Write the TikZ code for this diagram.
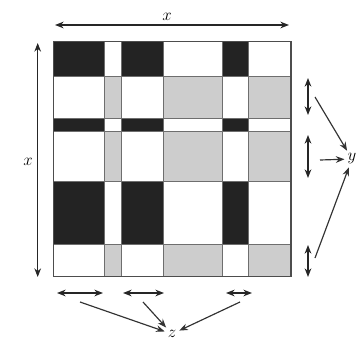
\documentclass[tikz,border=0pt]{standalone}
\usepackage{tikz}
\usetikzlibrary{arrows.meta}
\definecolor{cellgray}{RGB}{205,205,205}
\definecolor{celldark}{RGB}{35,35,35}
\definecolor{rulegray}{RGB}{110,110,110}

\begin{document}
\begin{tikzpicture}[
  x=0.3mm, y=-0.3mm,
  darkcell/.style={fill=celldark},
  lightcell/.style={fill=cellgray},
  gridline/.style={draw=rulegray, line width=0.5pt},
  frame/.style={draw=rulegray!70!black, line width=1.2pt},
  dimarrow/.style={{Stealth[length=2.6mm,width=2mm]}-{Stealth[length=2.6mm,width=2mm]}, line width=1pt, draw=black!85},
  pointer/.style={-{Stealth[length=2.6mm,width=2mm]}, line width=1pt, draw=black!80, shorten >=1pt},
  dimlabel/.style={font=\Large, inner sep=1.5pt}
]
\useasboundingbox (0,0) rectangle (359,358);

% corners of the square
\coordinate (nw) at (53.3,41.7);
\coordinate (se) at (291,276.7);

% dark blocks and grey blocks
\foreach \ya/\yb in {41.7/76, 118.7/131, 181/244}
  \foreach \xa/\xb in {53.3/104.3, 121.7/163.3, 222.7/248.3}
    \fill[darkcell] (\xa,\ya) rectangle (\xb,\yb);
\foreach \ya/\yb in {76/118.7, 131/181, 244/276.7}
  \foreach \xa/\xb in {104.3/121.7, 163.3/222.7, 248.3/291}
    \fill[lightcell] (\xa,\ya) rectangle (\xb,\yb);

% grid lines
\foreach \xx in {104.3, 121.7, 163.3, 222.7, 248.3}
  \draw[gridline] (\xx,41.7) -- (\xx,276.7);
\foreach \yy in {76, 118.7, 131, 181, 244}
  \draw[gridline] (53.3,\yy) -- (291,\yy);
\draw[frame] (nw) rectangle (se);

% overall size x
\coordinate (xt1) at (55,25);
\coordinate (xt2) at (289,25);
\draw[dimarrow] (xt1) -- (xt2);
\node[dimlabel] (xtop) at (167,17) {$x$};
\coordinate (xl1) at (37.7,43);
\coordinate (xl2) at (37.7,277);
\draw[dimarrow] (xl1) -- (xl2);
\node[dimlabel] (xleft) at (28,162) {$x$};

% row widths y
\coordinate (ya1) at (308,78);   \coordinate (ya2) at (308,115);
\coordinate (yb1) at (308,135);  \coordinate (yb2) at (308,178);
\coordinate (yc1) at (308,245);  \coordinate (yc2) at (308,277);
\draw[dimarrow] (ya1) -- (ya2);
\draw[dimarrow] (yb1) -- (yb2);
\draw[dimarrow] (yc1) -- (yc2);
\node[dimlabel] (ylab) at (352,159) {$y$};
\coordinate (py1) at (315,97);
\coordinate (py2) at (320,160);
\coordinate (py3) at (315,258);
\draw[pointer] (py1) -- (ylab);
\draw[pointer] (py2) -- (ylab);
\draw[pointer] (py3) -- (ylab);

% column widths z
\coordinate (za1) at (57,293);   \coordinate (za2) at (103,293);
\coordinate (zb1) at (123,293);  \coordinate (zb2) at (164,293);
\coordinate (zc1) at (226,293);  \coordinate (zc2) at (252,293);
\draw[dimarrow] (za1) -- (za2);
\draw[dimarrow] (zb1) -- (zb2);
\draw[dimarrow] (zc1) -- (zc2);
\node[dimlabel] (zlab) at (172,334) {$z$};
\coordinate (pz1) at (80,302);
\coordinate (pz2) at (143,302);
\coordinate (pz3) at (240,302);
\draw[pointer] (pz1) -- (zlab);
\draw[pointer] (pz2) -- (zlab);
\draw[pointer] (pz3) -- (zlab);
\end{tikzpicture}
\end{document}
